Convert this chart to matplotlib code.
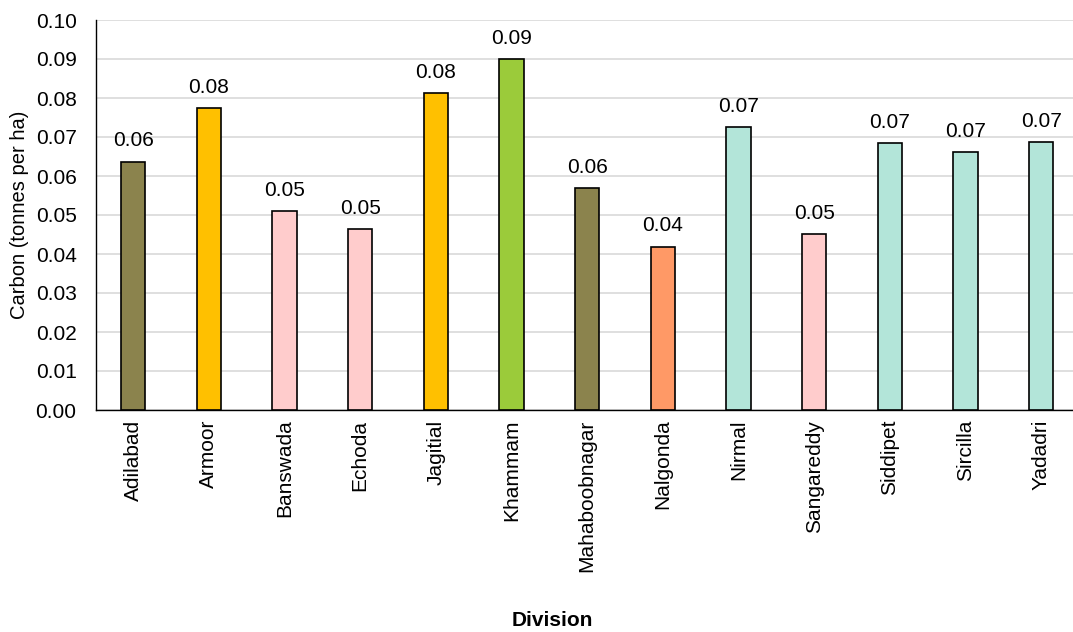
import matplotlib
matplotlib.use("Agg")
import matplotlib.pyplot as plt

divisions = ["Adilabad", "Armoor", "Banswada", "Echoda", "Jagitial", "Khammam",
             "Mahaboobnagar", "Nalgonda", "Nirmal", "Sangareddy", "Siddipet",
             "Sircilla", "Yadadri"]
carbon = [0.0637, 0.0775, 0.0510, 0.0464, 0.0813, 0.0899, 0.0570, 0.0419,
          0.0726, 0.0451, 0.0685, 0.0662, 0.0687]
colors = ["#8B834D", "#FFC000", "#FFCCCC", "#FFCCCC", "#FFC000", "#9BCB3A",
          "#8B834D", "#FF9966", "#B3E5D9", "#FFCCCC", "#B3E5D9", "#B3E5D9",
          "#B3E5D9"]
yticks = [0.00, 0.01, 0.02, 0.03, 0.04, 0.05, 0.06, 0.07, 0.08, 0.09, 0.10]

plt.rcParams['font.family'] = ['Liberation Sans', 'DejaVu Sans']
FS = 15

fig = plt.figure(figsize=(10.73, 6.32), dpi=100)
ax = fig.add_axes([96/1073, 1 - 410/632, 1 - 96/1073, 390/632])

x = list(range(len(divisions)))
bars = ax.bar(x, carbon, width=0.32, color=colors, edgecolor="black", linewidth=1.2, zorder=3)
ax.bar_label(bars, labels=[f"{v:.2f}" for v in carbon], padding=8, fontsize=FS)

ax.set_ylim(0, 0.10)
ax.set_yticks(yticks)
ax.set_yticklabels([f"{t:.2f}" for t in yticks], fontsize=FS)
ax.set_xlim(-0.49, 12.42)
ax.set_xticks(x)
ax.set_xticklabels(divisions, rotation=90, fontsize=FS)
ax.tick_params(axis="x", length=0, pad=7)
ax.tick_params(axis="y", length=0, pad=14)

ax.grid(axis="y", color="#D9D9D9", linewidth=1.2, zorder=0)
ax.set_axisbelow(True)
for s in ["top", "right"]:
    ax.spines[s].set_visible(False)
ax.spines["left"].set_color("black")
ax.spines["bottom"].set_color("black")
ax.spines["left"].set_linewidth(1.0)
ax.spines["bottom"].set_linewidth(1.0)

ax.set_ylabel("Carbon (tonnes per ha)", fontsize=14.5, labelpad=5)
fig.text(552/1073, 1 - 621/632, "Division", ha="center", va="center", fontsize=FS, fontweight="bold")

fig.savefig("out.png", dpi=100)
